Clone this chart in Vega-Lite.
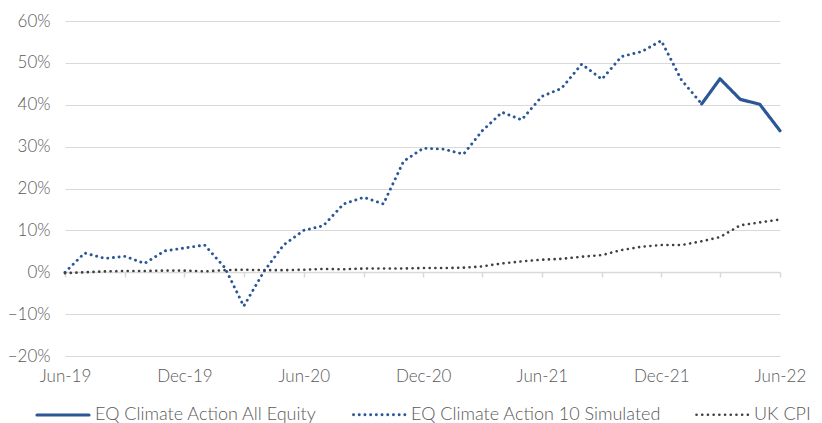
{
  "$schema": "https://vega.github.io/schema/vega-lite/v6.json",
  "width": 715,
  "height": 335,
  "autosize": {"type": "none"},
  "padding": {"left": 65, "top": 21, "right": 42, "bottom": 67},
  "background": "white",
  "config": {"view": {"stroke": null}, "font": "Lato"},
  "data": {
    "values": [
      {"d": "2019-06-01", "s": "EQ Climate Action 10 Simulated", "v": 0.0},
      {"d": "2019-07-01", "s": "EQ Climate Action 10 Simulated", "v": 0.046},
      {"d": "2019-08-01", "s": "EQ Climate Action 10 Simulated", "v": 0.033},
      {"d": "2019-09-01", "s": "EQ Climate Action 10 Simulated", "v": 0.038},
      {"d": "2019-10-01", "s": "EQ Climate Action 10 Simulated", "v": 0.021},
      {"d": "2019-11-01", "s": "EQ Climate Action 10 Simulated", "v": 0.051},
      {"d": "2019-12-01", "s": "EQ Climate Action 10 Simulated", "v": 0.058},
      {"d": "2020-01-01", "s": "EQ Climate Action 10 Simulated", "v": 0.065},
      {"d": "2020-02-01", "s": "EQ Climate Action 10 Simulated", "v": 0.011},
      {"d": "2020-03-01", "s": "EQ Climate Action 10 Simulated", "v": -0.081},
      {"d": "2020-04-01", "s": "EQ Climate Action 10 Simulated", "v": 0.002},
      {"d": "2020-05-01", "s": "EQ Climate Action 10 Simulated", "v": 0.065},
      {"d": "2020-06-01", "s": "EQ Climate Action 10 Simulated", "v": 0.100},
      {"d": "2020-07-01", "s": "EQ Climate Action 10 Simulated", "v": 0.111},
      {"d": "2020-08-01", "s": "EQ Climate Action 10 Simulated", "v": 0.163},
      {"d": "2020-09-01", "s": "EQ Climate Action 10 Simulated", "v": 0.179},
      {"d": "2020-10-01", "s": "EQ Climate Action 10 Simulated", "v": 0.163},
      {"d": "2020-11-01", "s": "EQ Climate Action 10 Simulated", "v": 0.265},
      {"d": "2020-12-01", "s": "EQ Climate Action 10 Simulated", "v": 0.296},
      {"d": "2021-01-01", "s": "EQ Climate Action 10 Simulated", "v": 0.294},
      {"d": "2021-02-01", "s": "EQ Climate Action 10 Simulated", "v": 0.282},
      {"d": "2021-03-01", "s": "EQ Climate Action 10 Simulated", "v": 0.337},
      {"d": "2021-04-01", "s": "EQ Climate Action 10 Simulated", "v": 0.382},
      {"d": "2021-05-01", "s": "EQ Climate Action 10 Simulated", "v": 0.364},
      {"d": "2021-06-01", "s": "EQ Climate Action 10 Simulated", "v": 0.420},
      {"d": "2021-07-01", "s": "EQ Climate Action 10 Simulated", "v": 0.439},
      {"d": "2021-08-01", "s": "EQ Climate Action 10 Simulated", "v": 0.497},
      {"d": "2021-09-01", "s": "EQ Climate Action 10 Simulated", "v": 0.461},
      {"d": "2021-10-01", "s": "EQ Climate Action 10 Simulated", "v": 0.515},
      {"d": "2021-11-01", "s": "EQ Climate Action 10 Simulated", "v": 0.527},
      {"d": "2021-12-01", "s": "EQ Climate Action 10 Simulated", "v": 0.553},
      {"d": "2022-01-01", "s": "EQ Climate Action 10 Simulated", "v": 0.459},
      {"d": "2022-02-01", "s": "EQ Climate Action 10 Simulated", "v": 0.402},
      {"d": "2022-02-01", "s": "EQ Climate Action All Equity", "v": 0.402},
      {"d": "2022-03-01", "s": "EQ Climate Action All Equity", "v": 0.462},
      {"d": "2022-04-01", "s": "EQ Climate Action All Equity", "v": 0.413},
      {"d": "2022-05-01", "s": "EQ Climate Action All Equity", "v": 0.401},
      {"d": "2022-06-01", "s": "EQ Climate Action All Equity", "v": 0.338},
      {"d": "2019-06-01", "s": "UK CPI", "v": -0.002},
      {"d": "2019-07-01", "s": "UK CPI", "v": 0.0},
      {"d": "2019-08-01", "s": "UK CPI", "v": 0.002},
      {"d": "2019-09-01", "s": "UK CPI", "v": 0.003},
      {"d": "2019-10-01", "s": "UK CPI", "v": 0.003},
      {"d": "2019-11-01", "s": "UK CPI", "v": 0.004},
      {"d": "2019-12-01", "s": "UK CPI", "v": 0.004},
      {"d": "2020-01-01", "s": "UK CPI", "v": 0.002},
      {"d": "2020-02-01", "s": "UK CPI", "v": 0.005},
      {"d": "2020-03-01", "s": "UK CPI", "v": 0.006},
      {"d": "2020-04-01", "s": "UK CPI", "v": 0.005},
      {"d": "2020-05-01", "s": "UK CPI", "v": 0.005},
      {"d": "2020-06-01", "s": "UK CPI", "v": 0.006},
      {"d": "2020-07-01", "s": "UK CPI", "v": 0.008},
      {"d": "2020-08-01", "s": "UK CPI", "v": 0.007},
      {"d": "2020-09-01", "s": "UK CPI", "v": 0.009},
      {"d": "2020-10-01", "s": "UK CPI", "v": 0.009},
      {"d": "2020-11-01", "s": "UK CPI", "v": 0.009},
      {"d": "2020-12-01", "s": "UK CPI", "v": 0.010},
      {"d": "2021-01-01", "s": "UK CPI", "v": 0.010},
      {"d": "2021-02-01", "s": "UK CPI", "v": 0.011},
      {"d": "2021-03-01", "s": "UK CPI", "v": 0.014},
      {"d": "2021-04-01", "s": "UK CPI", "v": 0.021},
      {"d": "2021-05-01", "s": "UK CPI", "v": 0.026},
      {"d": "2021-06-01", "s": "UK CPI", "v": 0.030},
      {"d": "2021-07-01", "s": "UK CPI", "v": 0.032},
      {"d": "2021-08-01", "s": "UK CPI", "v": 0.037},
      {"d": "2021-09-01", "s": "UK CPI", "v": 0.041},
      {"d": "2021-10-01", "s": "UK CPI", "v": 0.053},
      {"d": "2021-11-01", "s": "UK CPI", "v": 0.061},
      {"d": "2021-12-01", "s": "UK CPI", "v": 0.065},
      {"d": "2022-01-01", "s": "UK CPI", "v": 0.065},
      {"d": "2022-02-01", "s": "UK CPI", "v": 0.074},
      {"d": "2022-03-01", "s": "UK CPI", "v": 0.084},
      {"d": "2022-04-01", "s": "UK CPI", "v": 0.112},
      {"d": "2022-05-01", "s": "UK CPI", "v": 0.119},
      {"d": "2022-06-01", "s": "UK CPI", "v": 0.126}
    ]
  },
  "layer": [
    {
      "mark": {"type": "line", "opacity": 0},
      "encoding": {
        "x": {
          "field": "d",
          "type": "temporal",
          "scale": {"type": "utc", "nice": false},
          "axis": {
            "orient": "bottom",
            "title": null,
            "offset": -84,
            "grid": false,
            "labels": false,
            "domain": true,
            "domainColor": "#d9d9d9",
            "domainWidth": 1.5,
            "ticks": true,
            "tickColor": "#d9d9d9",
            "tickWidth": 1.5,
            "tickSize": 5,
            "values": [
              {"year": 2019, "month": 6, "date": 1, "utc": true},
              {"year": 2019, "month": 9, "date": 1, "utc": true},
              {"year": 2019, "month": 12, "date": 1, "utc": true},
              {"year": 2020, "month": 3, "date": 1, "utc": true},
              {"year": 2020, "month": 6, "date": 1, "utc": true},
              {"year": 2020, "month": 9, "date": 1, "utc": true},
              {"year": 2020, "month": 12, "date": 1, "utc": true},
              {"year": 2021, "month": 3, "date": 1, "utc": true},
              {"year": 2021, "month": 6, "date": 1, "utc": true},
              {"year": 2021, "month": 9, "date": 1, "utc": true},
              {"year": 2021, "month": 12, "date": 1, "utc": true},
              {"year": 2022, "month": 3, "date": 1, "utc": true},
              {"year": 2022, "month": 6, "date": 1, "utc": true}
            ]
          }
        },
        "y": {
          "field": "v",
          "type": "quantitative",
          "scale": {"domain": [-0.2, 0.6], "nice": false},
          "axis": {
            "title": null,
            "format": ".0%",
            "values": [-0.2, -0.1, 0, 0.1, 0.2, 0.3, 0.4, 0.5, 0.6],
            "grid": true,
            "gridColor": "#d9d9d9",
            "gridWidth": 1,
            "domain": false,
            "ticks": false,
            "labelPadding": 15,
            "labelFontSize": 17,
            "labelFontWeight": 300,
            "labelColor": "#595959"
          }
        }
      }
    },
    {
      "mark": {"type": "line", "strokeCap": "round", "strokeJoin": "round"},
      "encoding": {
        "x": {
          "field": "d",
          "type": "temporal",
          "axis": {
            "orient": "bottom",
            "title": null,
            "grid": false,
            "domain": false,
            "ticks": false,
            "tickSize": 0,
            "labelFlush": false,
            "labelPadding": 12,
            "labelFontSize": 17,
            "labelFontWeight": 300,
            "labelColor": "#595959",
            "labelExpr": "utcFormat(datum.value, '%b-%y')",
            "values": [
              {"year": 2019, "month": 6, "date": 1, "utc": true},
              {"year": 2019, "month": 12, "date": 1, "utc": true},
              {"year": 2020, "month": 6, "date": 1, "utc": true},
              {"year": 2020, "month": 12, "date": 1, "utc": true},
              {"year": 2021, "month": 6, "date": 1, "utc": true},
              {"year": 2021, "month": 12, "date": 1, "utc": true},
              {"year": 2022, "month": 6, "date": 1, "utc": true}
            ]
          }
        },
        "y": {"field": "v", "type": "quantitative"},
        "color": {
          "field": "s",
          "type": "nominal",
          "scale": {
            "domain": ["EQ Climate Action All Equity", "EQ Climate Action 10 Simulated", "UK CPI"],
            "range": ["#2b5797", "#2b5797", "#404040"]
          },
          "legend": {
            "title": null,
            "orient": "none",
            "direction": "horizontal",
            "legendX": -30,
            "legendY": 366,
            "symbolType": "stroke",
            "symbolSize": 2704,
            "symbolStrokeWidth": 2.6,
            "labelFontSize": 18,
            "labelFontWeight": 300,
            "labelColor": "#595959",
            "labelOffset": 4,
            "labelLimit": 400,
            "columnPadding": 30,
            "encode": {"symbols": {"update": {"strokeCap": {"value": "round"}}}}
          }
        },
        "strokeDash": {
          "field": "s",
          "type": "nominal",
          "scale": {
            "domain": ["EQ Climate Action All Equity", "EQ Climate Action 10 Simulated", "UK CPI"],
            "range": [[1, 0], [0.1, 5.6], [0.1, 5.6]]
          }
        },
        "strokeWidth": {
          "field": "s",
          "type": "nominal",
          "scale": {
            "domain": ["EQ Climate Action All Equity", "EQ Climate Action 10 Simulated", "UK CPI"],
            "range": [3.2, 2.6, 2.6]
          },
          "legend": null
        }
      }
    }
  ],
  "resolve": {"axis": {"x": "independent"}}
}
